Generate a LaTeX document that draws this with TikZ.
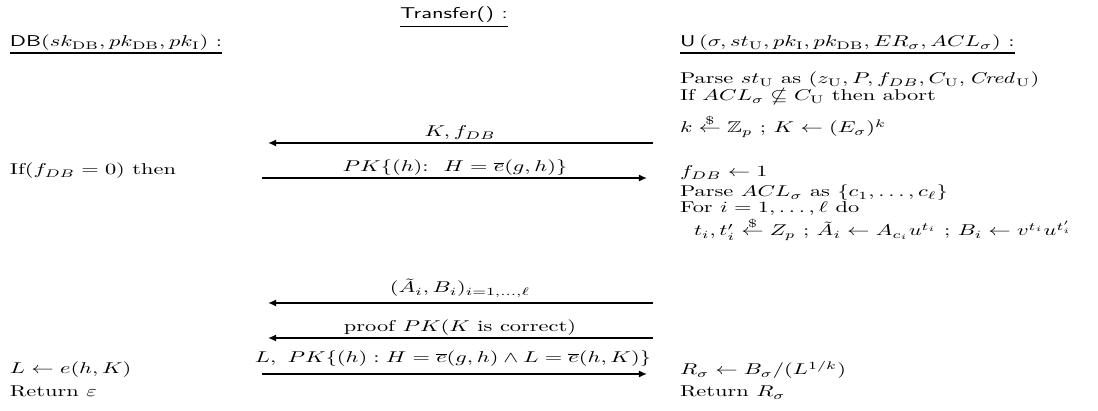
\documentclass[tikz,border=0pt]{standalone}
\usepackage{amsmath,amssymb,graphicx}
\usetikzlibrary{arrows.meta}
\newcommand{\squash}[1]{\scalebox{1}[0.7]{#1}}
\begin{document}
\begin{tikzpicture}[x=0.4464pt,y=-0.4464pt,
  txt/.style={anchor=base west,inner sep=0pt,outer sep=0pt},
  lab/.style={anchor=base,inner sep=0pt,outer sep=0pt},
  uline/.style={line width=0.75pt},
  msg/.style={line width=1.2pt,-{Latex[length=3.6pt,width=3.2pt]}}]
\useasboundingbox (0,0) rectangle (1098,411);
% headers
\node[lab] (tr) at (454,19) {\squash{\textsf{Transfer() :}}};
\node[txt] (db) at (10,47) {\squash{\textsf{DB}$(sk_{\mathrm{DB}}, pk_{\mathrm{DB}}, pk_{\mathrm{I}})$ :}};
\node[txt] (u) at (680,47) {\squash{\textsf{U}\,$(\sigma, st_{\mathrm{U}}, pk_{\mathrm{I}}, pk_{\mathrm{DB}}, ER_\sigma, ACL_\sigma)$ :}};
\draw[uline] ([yshift=-3.4pt]tr.base west) -- ([yshift=-3.4pt]tr.base east);
\draw[uline] ([yshift=-2.8pt]db.base west) -- ([yshift=-2.8pt]db.base east);
\draw[uline] ([yshift=-2.8pt]u.base west) -- ([yshift=-2.8pt]u.base east);
% user column
\node[txt] (u1) at (680,84) {\squash{Parse $st_{\mathrm{U}}$ as $(z_{\mathrm{U}}, P, f_{DB}, C_{\mathrm{U}}, \mathit{Cred}_{\mathrm{U}})$}};
\node[txt] (u2) at (680,101) {\squash{If $ACL_\sigma \nsubseteq C_{\mathrm{U}}$ then abort}};
\node[txt] (u3) at (680,133) {\squash{$k \stackrel{\$}{\leftarrow} \mathbb{Z}_p$ ; $K \leftarrow (E_\sigma)^k$}};
\node[txt] (u4) at (680,177) {\squash{$f_{DB} \leftarrow 1$}};
\node[txt] (u5) at (680,197) {\squash{Parse $ACL_\sigma$ as $\{c_1, \ldots, c_\ell\}$}};
\node[txt] (u6) at (680,213) {\squash{For $i = 1, \ldots, \ell$ do}};
\node[txt] (u7) at (694,236) {\squash{$t_i, t'_i \stackrel{\$}{\leftarrow} Z_p$ ; $\tilde{A}_i \leftarrow A_{c_i} u^{t_i}$ ; $B_i \leftarrow v^{t_i} u^{t'_i}$}};
\node[txt] (u8) at (680,375) {\squash{$R_\sigma \leftarrow B_\sigma/(L^{1/k})$}};
\node[txt] (u9) at (680,397) {\squash{Return $R_\sigma$}};
% database column
\node[txt] (d1) at (10,175) {\squash{If$(f_{DB} = 0)$ then}};
\node[txt] (d2) at (10,374) {\squash{$L \leftarrow e(h,K)$}};
\node[txt] (d3) at (10,397) {\squash{Return $\varepsilon$}};
% messages
\coordinate (m1s) at (653,143); \coordinate (m1e) at (268,143);
\coordinate (m2s) at (262,178); \coordinate (m2e) at (647,178);
\coordinate (m3s) at (653,303); \coordinate (m3e) at (268,303);
\coordinate (m4s) at (653,338); \coordinate (m4e) at (268,338);
\coordinate (m5s) at (262,374); \coordinate (m5e) at (647,374);
\draw[msg] (m1s) -- (m1e);
\draw[msg] (m2s) -- (m2e);
\draw[msg] (m3s) -- (m3e);
\draw[msg] (m4s) -- (m4e);
\draw[msg] (m5s) -- (m5e);
\node[lab] (l1) at (460,137) {\squash{$K, f_{DB}$}};
\node[lab] (l2) at (455,172) {\squash{$PK\{(h){:}\ \ H = \overline{e}(g,h)\}$}};
\node[lab] (l3) at (460,293) {\squash{$(\tilde{A}_i, B_i)_{i=1,\ldots,\ell}$}};
\node[lab] (l4) at (460,332) {\squash{proof $PK(K \text{ is correct})$}};
\node[lab] (l5) at (453,363) {\squash{$L,\ PK\{(h) : H = \overline{e}(g,h) \wedge L = \overline{e}(h,K)\}$}};
\end{tikzpicture}
\end{document}
